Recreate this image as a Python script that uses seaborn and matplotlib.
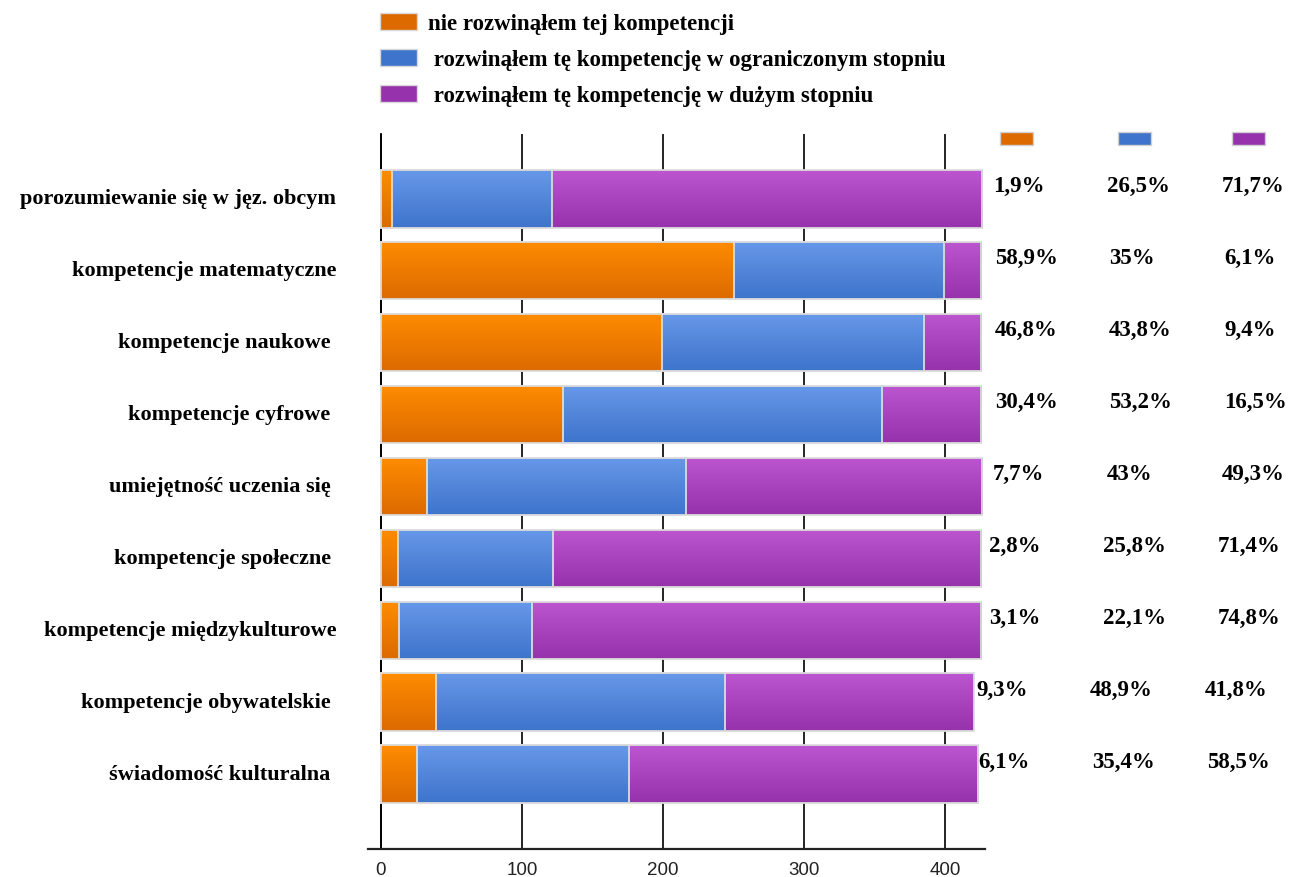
import numpy as np
import pandas as pd
import seaborn as sns
import matplotlib.pyplot as plt
from matplotlib.patches import Patch, Rectangle
from matplotlib.colors import LinearSegmentedColormap
from matplotlib import transforms

# dane (liczba odpowiedzi)
categories = [
    "porozumiewanie się w jęz. obcym",
    "kompetencje matematyczne",
    "kompetencje naukowe ",
    "kompetencje cyfrowe ",
    "umiejętność uczenia się ",
    "kompetencje społeczne ",
    "kompetencje międzykulturowe",
    "kompetencje obywatelskie ",
    "świadomość kulturalna ",
]
nie = [8, 250, 199, 129, 33, 12, 13, 39, 26]
ogr = [113, 149, 186, 226, 183, 110, 94, 205, 150]
duzy = [305, 26, 40, 70, 210, 303, 318, 176, 247]

pct_nie = ["1,9%", "58,9%", "46,8%", "30,4%", "7,7%", "2,8%", "3,1%", "9,3%", "6,1%"]
pct_ogr = ["26,5%", "35%", "43,8%", "53,2%", "43%", "25,8%", "22,1%", "48,9%", "35,4%"]
pct_duzy = ["71,7%", "6,1%", "9,4%", "16,5%", "49,3%", "71,4%", "74,8%", "41,8%", "58,5%"]

legend_labels = [
    "nie rozwinąłem tej kompetencji",
    " rozwinąłem tę kompetencję w ograniczonym stopniu",
    " rozwinąłem tę kompetencję w dużym stopniu",
]

# kolory (gora, dol gradientu)
c_orange = ("#ff8c00", "#dc6a00")
c_blue = ("#6798e8", "#3f74cc")
c_purple = ("#bb55d0", "#9632ac")

#%%
sns.set_style("white")
plt.rcParams["font.family"] = ["Liberation Serif", "DejaVu Serif"]
plt.rcParams["text.color"] = "black"
plt.rcParams["ytick.labelcolor"] = "black"

df = pd.DataFrame({"kat": categories, "nie": nie, "ogr": ogr, "duzy": duzy})
df["c1"] = df["nie"]
df["c2"] = df["nie"] + df["ogr"]
df["c3"] = df["c2"] + df["duzy"]

W, H = 1292, 878
fig = plt.figure(figsize=(W / 100, H / 100), dpi=100)
ax = fig.add_axes([368 / W, 28 / H, (985 - 368) / W, (850 - 135) / H])

layers = [("c3", c_purple), ("c2", c_blue), ("c1", c_orange)]
for k, (col, cols) in enumerate(layers):
    n_before = len(ax.patches)
    sns.barplot(data=df, x=col, y="kat", orient="h", color=cols[1], saturation=1,
                width=0.8, ax=ax, linewidth=0)
    cmap = LinearSegmentedColormap.from_list(col, [cols[0], cols[1]])
    grad = np.linspace(0, 1, 64).reshape(-1, 1)
    for p in ax.patches[n_before:]:
        p.set_zorder(2 + k)
        x0, y0, w, h = p.get_x(), p.get_y(), p.get_width(), p.get_height()
        im = ax.imshow(grad, extent=(x0, x0 + w, y0 + h, y0), origin="upper",
                       aspect="auto", cmap=cmap, zorder=2.3 + k)
        im.set_clip_path(p)
        ax.add_patch(Rectangle((x0, y0), w, h, fill=False, edgecolor="#dcdcdc",
                               lw=1.3, zorder=2.6 + k))

ax.set_xlim(-9, 428)
ax.set_ylim(8 + 1.04, -0.9)
ax.set_xticks([0, 100, 200, 300, 400])
ax.set_xlabel("")
ax.set_ylabel("")

ax.set_axisbelow(True)
ax.xaxis.grid(True, color="black", lw=1.2)
ax.yaxis.grid(False)
for s in ["top", "right"]:
    ax.spines[s].set_visible(False)
ax.spines["left"].set_position(("data", 0))
ax.spines["left"].set_color("black")
ax.spines["left"].set_linewidth(1.3)
ax.spines["bottom"].set_color("#222222")
ax.spines["bottom"].set_linewidth(1.6)

ax.tick_params(axis="x", direction="out", length=6, width=1.2, color="black",
               labelsize=13.5, labelcolor="#222222", pad=3)
ax.tick_params(axis="y", direction="out", length=8, width=1.2, color="black",
               labelsize=16, labelcolor="black", pad=24)
for lab in ax.get_xticklabels():
    lab.set_fontfamily("Liberation Sans")
shift = transforms.ScaledTranslation(0, 3 / 100, fig.dpi_scale_trans)
for lab in ax.get_yticklabels():
    lab.set_fontweight("bold")
    lab.set_color("black")
    lab.set_transform(lab.get_transform() + shift)

# procenty po prawej stronie
tr = transforms.blended_transform_factory(fig.transFigure, ax.transData)
tr = transforms.offset_copy(tr, fig=fig, y=13, units="dots")
col_x = [993, 1107, 1222]
row_shift = [0, 2, 2, 2, 0, -4, -4, -17, -15]
for i in range(len(categories)):
    for j, lst in enumerate([pct_nie, pct_ogr, pct_duzy]):
        ax.text((col_x[j] + row_shift[i]) / W, i, lst[i], transform=tr,
                ha="left", va="center", fontsize=16.5, fontweight="bold", color="black")

# male prostokaty nad kolumnami
for x, cols in zip([1000, 1118, 1232], [c_orange, c_blue, c_purple]):
    fig.add_artist(Rectangle((x / W, 1 - 146 / H), 33 / W, 13 / H, transform=fig.transFigure,
                             facecolor=cols[1], edgecolor="#d0d0d0", lw=1))

handles = [Patch(facecolor=c[1], edgecolor="#d8d8d8") for c in [c_orange, c_blue, c_purple]]
fig.legend(handles, legend_labels, loc="upper left", bbox_to_anchor=(380 / W, 1 - 14 / H),
           frameon=False, prop={"size": 16.5, "weight": "bold"}, handlelength=1.6,
           handleheight=0.75, labelspacing=0.64, handletextpad=0.5,
           borderpad=0, borderaxespad=0, labelcolor="black")

fig.savefig("out.png", dpi=100)
